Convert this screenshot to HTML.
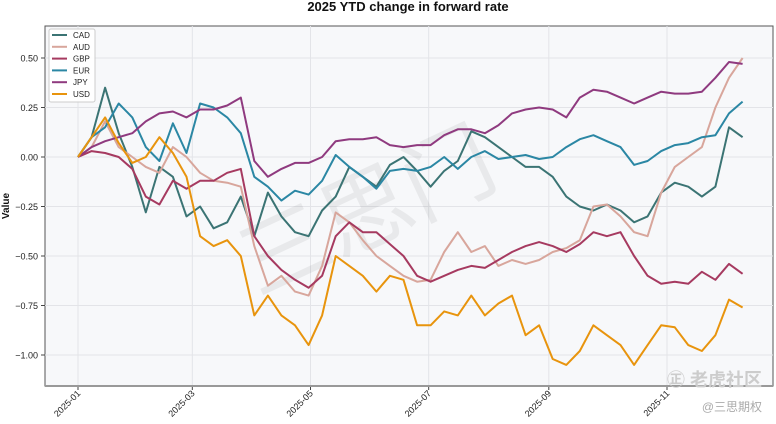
<!DOCTYPE html>
<html><head><meta charset="utf-8"><style>
body{margin:0;background:#fff;width:776px;height:424px;overflow:hidden;font-family:"Liberation Sans","DejaVu Sans","Noto Sans CJK SC",sans-serif}
svg{display:block}
</style></head><body>
<svg id="chart" width="776" height="424" xmlns="http://www.w3.org/2000/svg"></svg>
<script>
const seriesNames=["CAD","AUD","GBP","EUR","JPY","USD"];
const seriesColors=["#3b7474","#d8a69c","#a63a60","#2b87a4","#8f3a7f","#e8940d"];
const weekDays=[0,7,14,21,28,35,42,49,56,63,70,77,84,91,98,105,112,119,126,133,140,147,154,161,168,175,182,189,196,203,210,217,224,231,238,245,252,259,266,273,280,287,294,301,308,315,322,329,336,343];
const cadValues=[0,0.1,0.35,0.12,-0.05,-0.28,-0.05,-0.1,-0.3,-0.25,-0.36,-0.33,-0.2,-0.4,-0.18,-0.3,-0.38,-0.4,-0.27,-0.2,-0.05,-0.1,-0.15,-0.04,0.0,-0.07,-0.15,-0.07,-0.02,0.13,0.1,0.05,0.0,-0.05,-0.05,-0.1,-0.2,-0.25,-0.27,-0.24,-0.27,-0.33,-0.3,-0.18,-0.13,-0.15,-0.2,-0.15,0.15,0.1];
const audValues=[0,0.05,0.18,0.05,0.0,-0.05,-0.08,0.05,0.0,-0.08,-0.12,-0.13,-0.15,-0.45,-0.65,-0.6,-0.68,-0.7,-0.55,-0.28,-0.33,-0.42,-0.5,-0.55,-0.6,-0.63,-0.62,-0.48,-0.38,-0.48,-0.45,-0.55,-0.52,-0.54,-0.52,-0.48,-0.46,-0.42,-0.25,-0.24,-0.3,-0.38,-0.4,-0.18,-0.05,0.0,0.05,0.25,0.4,0.5];
const gbpValues=[0,0.03,0.02,0.0,-0.06,-0.2,-0.24,-0.12,-0.16,-0.12,-0.12,-0.08,-0.06,-0.4,-0.5,-0.57,-0.62,-0.66,-0.6,-0.4,-0.33,-0.38,-0.38,-0.44,-0.5,-0.6,-0.63,-0.6,-0.57,-0.55,-0.56,-0.52,-0.48,-0.45,-0.43,-0.45,-0.48,-0.44,-0.38,-0.4,-0.38,-0.5,-0.6,-0.64,-0.63,-0.64,-0.58,-0.62,-0.54,-0.59];
const eurValues=[0,0.1,0.15,0.27,0.2,0.05,-0.02,0.17,0.02,0.27,0.25,0.2,0.12,-0.1,-0.15,-0.22,-0.17,-0.19,-0.12,0.01,-0.05,-0.1,-0.16,-0.07,-0.06,-0.07,-0.05,0.0,-0.06,0.0,0.03,-0.01,0.0,0.01,-0.01,0.0,0.05,0.09,0.11,0.08,0.05,-0.04,-0.02,0.03,0.06,0.07,0.1,0.11,0.22,0.28];
const jpyValues=[0,0.05,0.08,0.1,0.12,0.18,0.22,0.23,0.2,0.24,0.24,0.26,0.3,-0.02,-0.1,-0.06,-0.03,-0.03,0.0,0.08,0.09,0.09,0.1,0.06,0.05,0.06,0.06,0.11,0.14,0.14,0.12,0.16,0.22,0.24,0.25,0.24,0.2,0.3,0.34,0.33,0.3,0.27,0.3,0.33,0.32,0.32,0.33,0.4,0.48,0.47];
const usdValues=[0,0.1,0.2,0.07,-0.03,0.0,0.1,0.02,-0.1,-0.4,-0.45,-0.42,-0.5,-0.8,-0.7,-0.8,-0.85,-0.95,-0.8,-0.5,-0.55,-0.6,-0.68,-0.6,-0.62,-0.85,-0.85,-0.78,-0.8,-0.7,-0.8,-0.74,-0.7,-0.9,-0.85,-1.02,-1.05,-0.98,-0.85,-0.9,-0.95,-1.05,-0.95,-0.85,-0.86,-0.95,-0.98,-0.9,-0.72,-0.76];
const yTicks=[0.5,0.25,0,-0.25,-0.5,-0.75,-1.0];
const yTickLabels=["0.50","0.25","0.00","\u22120.25","\u22120.50","\u22120.75","\u22121.00"];
const xTickDays=[0,59,120,181,243,304];
const xTickLabels=["2025-01","2025-03","2025-05","2025-07","2025-09","2025-11"];

const NS="http://www.w3.org/2000/svg";
const svg=document.getElementById('chart');
const L=45,R=773,T=26,B=386;
const xs=d=>78+d*1.9375;
const ys=v=>157-v*198;
function mk(tag,attrs,parent){const e=document.createElementNS(NS,tag);for(const k in attrs)e.setAttribute(k,attrs[k]);(parent||svg).appendChild(e);return e;}

const title=mk('text',{x:408,y:11,'text-anchor':'middle','font-size':13,'font-weight':'bold',fill:'#111'});
title.textContent='2025 YTD change in forward rate';



const bg=mk('rect',{x:L,y:T,width:R-L,height:B-T,fill:'#f7f8fa',stroke:'#555','stroke-width':1});



yTicks.forEach((v,i)=>{
  const g=mk('line',{x1:L,x2:R,y1:ys(v),y2:ys(v),stroke:'#e3e4e8','stroke-width':1});
  
  
  mk('line',{x1:L-4,x2:L,y1:ys(v),y2:ys(v),stroke:'#444','stroke-width':1});
  const t=mk('text',{x:L-7,y:ys(v)+3.5,'text-anchor':'end','font-size':9,fill:'#222'});
  t.textContent=yTickLabels[i];
  
  
});
xTickDays.forEach((d,i)=>{
  const g=mk('line',{x1:xs(d),x2:xs(d),y1:T,y2:B,stroke:'#e3e4e8','stroke-width':1});
  
  
  mk('line',{x1:xs(d),x2:xs(d),y1:B,y2:B+4,stroke:'#444','stroke-width':1});
  const t=mk('text',{x:xs(d)+3,y:B+8,'text-anchor':'end','font-size':9,fill:'#222',transform:`rotate(-45 ${xs(d)+3} ${B+8})`});
  t.textContent=xTickLabels[i];
  
  
});
mk('line',{x1:L,x2:R,y1:B,y2:B,stroke:'#999','stroke-width':2});

const yl=mk('text',{x:9,y:206,'text-anchor':'middle','font-size':10,'font-weight':'bold',fill:'#111',transform:'rotate(-90 9 206)'});
yl.textContent='Value';



const wm=mk('text',{x:380,y:240,'text-anchor':'middle','font-size':90,fill:'#000','fill-opacity':0.06,transform:'rotate(-25 380 240)'});
wm.textContent='三思门';



const all=[cadValues,audValues,gbpValues,eurValues,jpyValues,usdValues];
all.forEach((vals,si)=>{
  const d=vals.map((v,i)=>(i?'L':'M')+xs(weekDays[i]).toFixed(1)+','+ys(v).toFixed(1)).join(' ');
  const p=mk('path',{d:d,fill:'none',stroke:seriesColors[si],'stroke-width':2,'stroke-linejoin':'round'});
  
  
});

const lg=mk('g',{});


mk('rect',{x:49,y:29,width:46,height:73,fill:'#fff','fill-opacity':0.9,stroke:'#ccc',rx:2},lg);
seriesNames.forEach((n,i)=>{
  const y=35+i*11.8;
  mk('line',{x1:52,x2:67,y1:y,y2:y,stroke:seriesColors[i],'stroke-width':2},lg);
  const t=mk('text',{x:73,y:y+3,'font-size':8,fill:'#222'},lg);
  t.textContent=n;
  
  
});

const w1=mk('text',{x:762,y:386,'text-anchor':'end','font-size':18,'font-weight':'bold',fill:'#ccc'});
w1.textContent='㊣ 老虎社区';


const w2=mk('text',{x:762,y:411,'text-anchor':'end','font-size':12,fill:'#aaa'});
w2.textContent='@三思期权';


</script>
</body></html>
